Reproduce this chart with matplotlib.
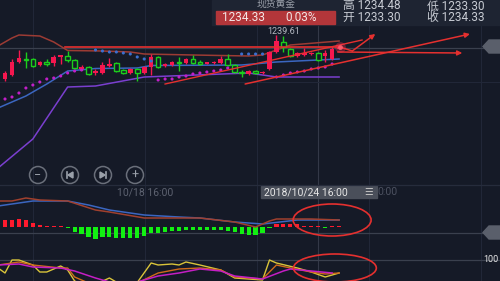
import numpy as np
import matplotlib.pyplot as plt
from matplotlib.patches import Ellipse, Rectangle, Circle, Polygon

plt.rcParams['font.family'] = ['Roboto', 'Noto Sans CJK SC', 'DejaVu Sans']

BG = '#151a27'
GRID = '#212738'
RED = '#f5174f'
GREEN = '#1ccd1c'
LINE_RED = '#e5302f'

# ---- candles (4h, gold spot) ----
opens = [1217.61, 1220.25, 1222.01, 1227.73, 1229.05, 1229.05, 1226.41, 1227.51, 1227.29, 1229.93,
         1230.37, 1228.61, 1224.87, 1225.53, 1223.11, 1222.89, 1225.97, 1227.29, 1224.21, 1222.89,
         1224.65, 1222.89, 1225.53, 1229.93, 1225.97, 1226.41, 1227.73, 1227.29, 1229.05, 1227.51,
         1227.07, 1227.29, 1227.29, 1229.05, 1226.41, 1223.33, 1222.45, 1223.55, 1222.89, 1224.65,
         1232.13, 1236.53, 1233.45, 1230.37, 1230.81, 1231.25, 1231.69, 1230.37, 1229.05, 1233.30]
highs = [1221.13, 1223.77, 1229.05, 1233.01, 1232.13, 1229.49, 1228.17, 1229.05, 1230.81, 1230.81,
         1232.57, 1229.05, 1226.41, 1225.97, 1224.65, 1227.73, 1229.49, 1227.73, 1224.65, 1225.09,
         1225.09, 1225.97, 1231.25, 1230.37, 1227.29, 1228.17, 1229.93, 1229.49, 1230.81, 1228.61,
         1227.73, 1228.17, 1230.37, 1231.25, 1226.85, 1224.21, 1224.21, 1224.21, 1223.77, 1232.57,
         1239.61, 1239.17, 1233.89, 1232.13, 1233.89, 1232.13, 1232.13, 1233.01, 1234.77, 1234.48]
lows = [1216.73, 1219.37, 1221.57, 1227.29, 1225.09, 1225.53, 1225.97, 1225.97, 1225.97, 1226.85,
        1227.73, 1224.65, 1224.21, 1222.01, 1222.01, 1222.45, 1225.53, 1223.33, 1222.45, 1222.45,
        1219.37, 1222.45, 1222.01, 1225.09, 1225.53, 1225.97, 1223.77, 1226.85, 1226.85, 1226.41,
        1226.85, 1226.85, 1226.85, 1225.97, 1222.89, 1221.13, 1222.01, 1222.45, 1222.45, 1224.21,
        1231.69, 1232.13, 1229.93, 1229.93, 1230.37, 1230.81, 1228.17, 1227.73, 1228.61, 1233.30]
closes = [1220.25, 1222.89, 1227.73, 1229.49, 1228.61, 1225.97, 1227.73, 1227.07, 1229.93, 1230.59,
          1228.61, 1225.09, 1225.31, 1222.45, 1223.55, 1226.41, 1226.85, 1223.77, 1222.89, 1224.65,
          1222.89, 1225.53, 1229.93, 1225.53, 1226.85, 1227.73, 1227.29, 1229.05, 1227.29, 1227.07,
          1227.51, 1227.73, 1229.05, 1226.41, 1223.33, 1222.89, 1223.77, 1223.11, 1223.33, 1232.13,
          1236.97, 1234.33, 1230.37, 1231.69, 1231.69, 1231.69, 1228.61, 1231.69, 1233.45, 1234.33]

# bollinger bands (sparse readings: candle index, price)
boll_up_i = [0, 2, 3, 6, 8, 10, 15, 19, 21, 28, 36, 38, 40, 42, 49]
boll_up = [1234.77, 1238.29, 1239.61, 1239.17, 1236.53, 1232.79, 1232.57, 1232.13, 1231.25,
           1230.81, 1230.37, 1230.81, 1233.01, 1235.21, 1236.97]
boll_mid_i = [0, 4, 7, 10, 14, 20, 22, 35, 40, 49]
boll_mid = [1207.49, 1212.77, 1218.05, 1223.77, 1224.87, 1225.09, 1226.19, 1226.41, 1227.73, 1229.05]
boll_low_i = [0, 5, 10, 14, 21, 36, 40, 49]
boll_low = [1181.09, 1193.85, 1216.73, 1217.17, 1221.13, 1222.89, 1221.13, 1221.13]

# parabolic SAR
nan = np.nan
sar = [nan, 1211.45, 1212.33, 1214.09, 1216.29, 1217.61, 1218.93, 1220.25, 1220.69, 1221.57,
       1222.89, 1223.77, 1224.21, nan, 1233.01, 1232.57, 1232.13, 1232.13, 1231.69, 1231.25,
       1229.93, 1229.05, 1228.17, 1219.81, 1220.25, 1220.25, 1221.13, 1221.57, 1222.45, 1222.89,
       1223.33, 1223.77, 1224.21, 1225.09, nan, 1231.25, 1231.25, 1231.25, 1231.25, nan,
       1221.13, 1222.01, 1222.89, 1223.33, 1223.77, 1224.65, 1225.09, 1225.53, 1226.85, nan]
sar_above = list(range(14, 23)) + [35, 36, 37, 38]

# MACD
dif_i = [0, 2, 4, 6, 10, 14, 16, 21, 26, 29, 34, 37, 39, 40, 45, 49]
dif = [2.6, 2.6, 2.9, 2.7, 2.6, 1.7, 1.5, 0.9, 0.9, 0.9, 0.5, 0.0, 0.6, 0.8, 0.8, 0.7]
dea_i = [0, 5, 10, 13, 16, 21, 26, 29, 34, 38, 43, 49]
dea = [2.1, 2.6, 2.6, 2.2, 1.7, 1.2, 1.0, 0.9, 0.5, 0.3, 0.7, 0.7]
macd_hist = [0.7, 0.7, 0.7, 0.8, 0.7, 0.4, 0.2, 0.1, 0.1, 0.1,
             -0.05, -0.45, -0.7, -1.0, -1.2, -1.0, -1.0, -1.1, -1.1, -1.1,
             -1.1, -0.9, -0.6, -0.6, -0.5, -0.4, -0.4, -0.3, -0.3, -0.3,
             -0.3, -0.3, -0.3, -0.4, -0.5, -0.7, -0.8, -0.8, -0.6, -0.1,
             0.3, 0.3, 0.3, 0.3, 0.15, 0.15, 0.1, -0.1, 0.1, 0.1]

# KDJ
k_i = [0, 3, 5, 9, 10, 11, 13, 20, 23, 26, 29, 32, 34, 38, 40, 42, 45, 47, 49]
k_val = [80, 92, 80, 68, 68, 32, 8, 8, 48, 64, 68, 60, 32, 24, 80, 68, 52, 44, 48]
d_i = [0, 3, 5, 9, 11, 14, 16, 20, 23, 26, 29, 32, 34, 38, 41, 42, 45, 48]
d_val = [80, 84, 72, 68, 56, 28, 12, 12, 36, 48, 64, 56, 36, 24, 56, 64, 56, 48]
j_i = [0, 1, 2, 3, 5, 6, 7, 9, 10, 11, 13, 16, 18, 20, 22, 23, 25, 26, 27, 29, 32, 34, 38, 39, 40, 43, 45, 47, 49]
j_val = [68, 48, 100, 100, 80, 52, 52, 76, 60, 16, -10, 28, -5, 10, 88, 80, 84, 80, 92, 80, 60, 28,
         20, 100, 88, 68, 52, 32, 48]

H = 281.0
fig = plt.figure(figsize=(5, 2.81), dpi=100, facecolor=BG)
ax = fig.add_axes([0, 1 - 185 / H, 1, 185 / H])
ax_m = fig.add_axes([0, 1 - 252 / H, 1, 67 / H])
ax_k = fig.add_axes([0, 0, 1, 29 / H])
XL = (0.28, 72.12)
grid_x = [5.0, 21.1, 37.2, 53.3, 69.4]
for a in (ax, ax_m, ax_k):
    a.set_facecolor('none')
    a.set_xlim(*XL)
    a.axis('off')
    for gx in grid_x:
        a.axvline(gx, color=GRID, lw=0.8, zorder=0)
    a.axvline(46, color='#333847', lw=0.8, zorder=0)

ax.set_ylim(1173.61, 1255.01)
ax_m.set_ylim(-2.5, 4.2)
ax_k.set_ylim(16, 132)

# main panel
ax.axhline(1218.93, color=GRID, lw=0.8, zorder=0)
ax.axhline(1233.89, color='#3a404e', lw=0.9, zorder=0)
ax.plot(boll_up_i, boll_up, color='#9c3b34', lw=1.1, zorder=2)
ax.plot(boll_mid_i, boll_mid, color='#3b66c0', lw=1.1, zorder=2)
ax.plot(boll_low_i, boll_low, color='#7a3fcf', lw=1.1, zorder=2)

idx = np.arange(len(opens))
for i in idx:
    o, h, l, c = opens[i], highs[i], lows[i], closes[i]
    col = RED if c >= o else GREEN
    ax.vlines(i, l, h, color=col, lw=1, zorder=3)
    body = max(abs(c - o), 0.35)
    if c >= o:
        ax.bar(i, body, bottom=min(o, c), width=0.66, color=col, zorder=4)
    else:
        ax.bar(i, body, bottom=min(o, c), width=0.66, facecolor=BG, edgecolor=col, lw=1, zorder=4)

sar_col = ['#3b6fd0' if i in sar_above else '#c21fc9' for i in idx]
ax.scatter(idx, sar, s=5, c=sar_col, zorder=5, linewidths=0)

# drawn trend lines
ax.plot([9.6, 49.1], [1234.55, 1234.55], color=LINE_RED, lw=1.2, zorder=6)
ax.plot([24, 52.3], [1218.05, 1237.41], color=LINE_RED, lw=1.0, zorder=6)
arrows = [((35.5, 1218.05), (67.8, 1240.05)),
          ((48.8, 1232.13), (66.7, 1231.69)),
          ((50.9, 1232.57), (54.2, 1240.05))]
for start, end in arrows:
    ax.annotate('', xy=end, xytext=start,
                arrowprops=dict(arrowstyle='-|>', color=LINE_RED, lw=1.1, mutation_scale=7,
                                shrinkA=0, shrinkB=0), zorder=6)
ax.plot([49.1, 50.9], [1234.33, 1232.57], color=LINE_RED, lw=1.1, zorder=6)
ax.scatter([49.1], [1234.33], s=60, color='#ff3050', alpha=0.35, zorder=7, linewidths=0)
ax.scatter([49.1], [1234.33], s=12, color='#ff6070', alpha=0.9, zorder=7, linewidths=0)
ax.text(41.0, 1241.3, '1239.61', color='#b5b9c2', fontsize=6.5, ha='center', va='center', zorder=9)

# MACD panel
ax_m.axhline(-0.6, color='#3a404e', lw=0.9, zorder=0)
hist_col = ['#ff1a2e' if v > 0 else '#12f012' for v in macd_hist]
ax_m.bar(np.arange(len(macd_hist)), macd_hist, width=0.6, color=hist_col, zorder=2)
ax_m.plot(dea_i, dea, color='#3b66c0', lw=1.1, zorder=3)
ax_m.plot(dif_i, dif, color='#a0402e', lw=1.1, zorder=3)
ax_m.add_patch(Ellipse((48.0, 0.7), 11.2, 3.2, fill=False, ec=LINE_RED, lw=1.2, zorder=5))

# KDJ panel
ax_k.axhline(100, color='#3a404e', lw=0.9, zorder=0)
ax_k.plot(j_i, j_val, color='#d9c43a', lw=1.0, zorder=3)
ax_k.plot(k_i, k_val, color='#d06a1a', lw=1.0, zorder=3)
ax_k.plot(d_i, d_val, color='#c41ec4', lw=1.1, zorder=3)
ax_k.add_patch(Ellipse((48.4, 68), 11.9, 112, fill=False, ec=LINE_RED, lw=1.2, zorder=5, clip_on=False))

# UI overlay in pixel coordinates
ui = fig.add_axes([0, 0, 1, 1], zorder=10)
ui.set_xlim(0, 500)
ui.set_ylim(H, 0)
ui.axis('off')
ui.set_facecolor('none')
ui.axhline(185, color='#262c3c', lw=0.9)

ui.add_patch(Rectangle((212, 0), 288, 25, color='#1e2432'))
ui.add_patch(Rectangle((216, 11), 119, 13, color='#b3363a'))
ui.text(276, 3.5, '现货黄金', color='#9ba0aa', fontsize=7, ha='center', va='center')
ui.text(222, 17.5, '1234.33', color='#f3e6e6', fontsize=8.5, ha='left', va='center')
ui.text(285, 17.5, '0.03%', color='#f3e6e6', fontsize=8.5, ha='left', va='center')
ui.text(343, 6, '高 1234.48', color='#c7cbd3', fontsize=8.5, ha='left', va='center')
ui.text(427, 6, '低 1233.30', color='#c7cbd3', fontsize=8.5, ha='left', va='center')
ui.text(343, 17.5, '开 1233.30', color='#c7cbd3', fontsize=8.5, ha='left', va='center')
ui.text(427, 17.5, '收 1234.33', color='#c7cbd3', fontsize=8.5, ha='left', va='center')

# zoom buttons
for bx in [38, 70, 103, 135]:
    ui.add_patch(Circle((bx, 175), 8.5, fill=False, ec='#6a6f7a', lw=1.1))
ui.text(38, 175, '−', color='#9aa0aa', fontsize=9, ha='center', va='center')
ui.text(135, 175, '+', color='#9aa0aa', fontsize=9, ha='center', va='center')
ui.add_patch(Polygon([[73, 172], [73, 178], [68, 175]], color='#9aa0aa'))
ui.plot([67, 67], [172, 178], color='#9aa0aa', lw=1.2)
ui.add_patch(Polygon([[100, 172], [100, 178], [105, 175]], color='#9aa0aa'))
ui.plot([106, 106], [172, 178], color='#9aa0aa', lw=1.2)

# time axis labels
ui.text(145, 192, '10/18 16:00', color='#5d6270', fontsize=7.5, ha='center', va='center')
ui.text(377, 192, '0:00', color='#4c5160', fontsize=7.5, ha='left', va='center')
ui.add_patch(Rectangle((261, 186), 116, 11.5, color='#4a4f5a'))
ui.text(264, 192, '2018/10/24 16:00', color='#e6e6e6', fontsize=7.5, ha='left', va='center')
ui.text(369, 192, '☰', color='#c0c0c0', fontsize=7, ha='center', va='center')

# right edge tags
for ty in [46.5, 232.5]:
    ui.add_patch(Polygon([[483, ty], [489, ty - 6.5], [500, ty - 6.5], [500, ty + 6.5], [489, ty + 6.5]],
                         color='#5a5f6b'))
ui.text(499, 259.5, '100', color='#e8e8e8', fontsize=6.5, ha='right', va='center')

fig.savefig('out.png', dpi=100, facecolor=BG)
